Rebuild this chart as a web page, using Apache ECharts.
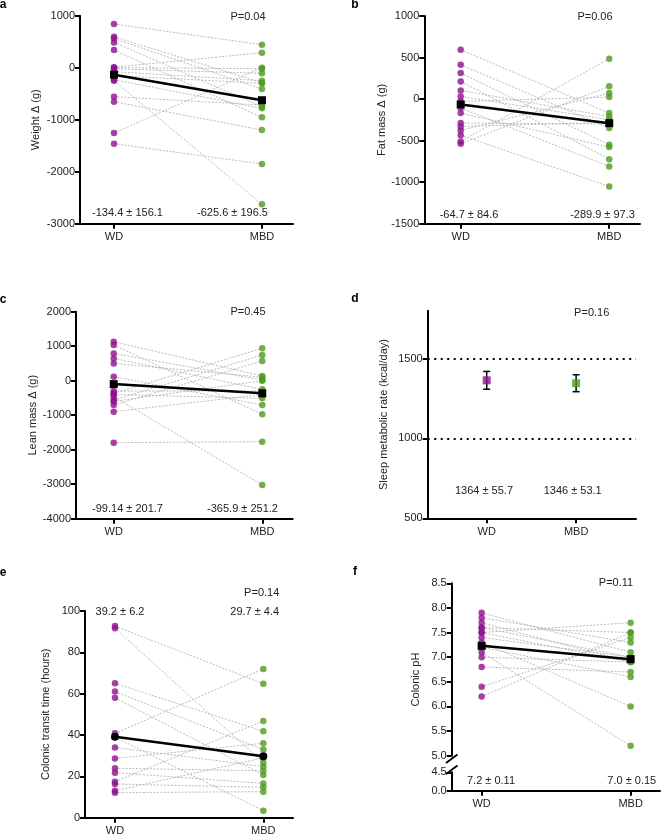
<!DOCTYPE html>
<html><head><meta charset="utf-8">
<script src="https://cdn.jsdelivr.net/npm/echarts@6/dist/echarts.min.js"></script>
<style>html,body{margin:0;padding:0;background:#fff}#c{width:664px;height:839px}</style>
</head><body><div id="c"></div>
<script>
// ---------- data ----------
const groups = ['WD', 'MBD'];

// a: weight change (g), paired by subject
const weightWD   = [840, 596, 560, 487, 340, 10, 0, -20, -77, -150, -230, -250, -558, -654, -1256, -1462];
const weightMBD  = [442, -288, -410, -750, -955, 288, -20, -109, -250, -300, -782, -2628, -718, -1199, 0, -1853];
const weightMean = [-134.4, -625.6];
const weightStats = ['-134.4 ± 156.1', '-625.6 ± 196.5'];
const weightTicks = [-3000, -2000, -1000, 0, 1000];

// b: fat mass change (g)
const fatWD   = [594, 414, 313, 213, 104, 32, -28, -108, -169, -289, -329, -378, -434, -510, -538];
const fatMBD  = [-169, -349, -550, -723, -209, -249, 24, -811, -578, -300, -280, 72, -1052, 486, 153];
const fatMean = [-64.7, -289.9];
const fatStats = ['-64.7 ± 84.6', '-289.9 ± 97.3'];
const fatTicks = [-1500, -1000, -500, 0, 500, 1000];

// c: lean mass change (g)
const leanWD   = [1130, 1034, 792, 647, 502, 116, -367, -464, -560, -705, -899, -1797, -400, -600, -300];
const leanMBD  = [135, -976, 19, -251, 100, -705, 937, -3024, 744, 570, -400, -1768, -512, 0, -300];
const leanMean = [-99.14, -365.9];
const leanStats = ['-99.14 ± 201.7', '-365.9 ± 251.2'];
const leanTicks = [-4000, -3000, -2000, -1000, 0, 1000, 2000];

// d: sleep metabolic rate (kcal/day)
const smrMean = [1364, 1346];
const smrSem  = [55.7, 53.1];
const smrStats = ['1364 ± 55.7', '1346 ± 53.1'];
const smrTicks = [500, 1000, 1500];
const smrMax = 1800;
const smrRefLines = [1000, 1500];

// e: colonic transit time (hours)
const cttWD   = [92.7, 91.6, 65, 61, 58, 40.8, 39, 34, 28.7, 23.9, 21.8, 17.4, 16.3, 13, 12.1];
const cttMBD  = [64.8, 26.6, 41.8, 33, 20.6, 72, 3.4, 24.7, 36, 22.7, 16.6, 46.8, 14.7, 29, 12.6];
const cttMean = [39.2, 29.7];
const cttStats = ['39.2 ± 6.2', '29.7 ± 4.4'];
const cttTicks = [0, 20, 40, 60, 80, 100];

// f: colonic pH (broken axis)
const phWD   = [7.9, 7.8, 7.7, 7.6, 7.5, 7.4, 7.3, 7.2, 7.1, 7.0, 6.8, 6.4, 6.2, 7.6, 7.5];
const phMBD  = [7.1, 7.3, 6.9, 7.5, 7.7, 7.0, 6.0, 6.6, 5.2, 6.9, 6.7, 7.4, 7.5, 7.0, 6.9];
const phMean = [7.23, 6.96];
const phStats = ['7.2 ± 0.11', '7.0 ± 0.15'];
const phTicksUpper = [5.0, 5.5, 6.0, 6.5, 7.0, 7.5, 8.0, 8.5];
const phTicksLower = [0.0, 4.5];

const pValues = ['P=0.04', 'P=0.06', 'P=0.45', 'P=0.16', 'P=0.14', 'P=0.11'];
const panelLetters = ['a', 'b', 'c', 'd', 'e', 'f'];

// ---------- styling / building ----------
const FONT = '"Liberation Sans", Arial, sans-serif';
const PURPLE = '#8e108f', GREEN = '#4f9b1d';
const TXT = '#222';

const grids = [], xAxes = [], yAxes = [], series = [], graphics = [];

function addText(text, x, y, opts) {
  graphics.push({type: 'text', x: x, y: y, z: 100, style: Object.assign({
    text: text, fill: TXT, font: '11px ' + FONT, align: 'center', verticalAlign: 'middle'
  }, opts || {})});
}

function addGrid(g) {
  const gi = grids.length;
  grids.push({left: g.left, top: g.top, width: g.width, height: g.height, containLabel: false});
  xAxes.push({
    gridIndex: gi, type: 'value', min: g.xMin, max: g.xMax, show: g.showX !== false,
    axisLine: {show: true, onZero: false, lineStyle: {color: '#000', width: 2}},
    axisTick: {show: true, customValues: [0, 1], length: 5, lineStyle: {color: '#000', width: 2}},
    axisLabel: {show: true, customValues: [0, 1], formatter: v => groups[Math.round(v)] || '',
      color: TXT, fontSize: 11, fontFamily: FONT, margin: 8},
    splitLine: {show: false}
  });
  const ticks = g.ticks;
  const y = {
    gridIndex: gi, type: 'value', min: ticks[0], max: g.yMax !== undefined ? g.yMax : ticks[ticks.length - 1],
    name: g.name || '', nameLocation: 'middle', nameGap: g.nameGap || 35,
    nameTextStyle: Object.assign({color: TXT, fontSize: 11, fontFamily: FONT}, g.nameStyle || {}),
    axisLine: {show: true, onZero: false, lineStyle: {color: '#000', width: 2}},
    axisTick: {show: true, length: 5, lineStyle: {color: '#000', width: 2}},
    axisLabel: {color: TXT, fontSize: 11, fontFamily: FONT, margin: 5,
      formatter: g.fmt || (v => String(v))},
    splitLine: {show: false}
  };
  if (g.yMax !== undefined) {
    y.axisTick.customValues = ticks;
    y.axisLabel.customValues = ticks;
  } else {
    y.interval = ticks[1] - ticks[0];
  }
  yAxes.push(y);
  return gi;
}

function addPaired(gi, wd, mbd, mean, meanSymbol) {
  wd.forEach((v, i) => {
    series.push({type: 'line', xAxisIndex: gi, yAxisIndex: gi, data: [[0, v], [1, mbd[i]]],
      symbol: 'none', silent: true, z: 1,
      lineStyle: {color: '#aaaaaa', width: 0.8, type: [2, 1.5]}});
  });
  series.push({type: 'scatter', xAxisIndex: gi, yAxisIndex: gi, data: wd.map(v => [0, v]),
    symbol: 'circle', symbolSize: 6.5, itemStyle: {color: PURPLE}, z: 2, silent: true});
  series.push({type: 'scatter', xAxisIndex: gi, yAxisIndex: gi, data: mbd.map(v => [1, v]),
    symbol: 'circle', symbolSize: 6.5, itemStyle: {color: GREEN}, z: 2, silent: true});
  series.push({type: 'line', xAxisIndex: gi, yAxisIndex: gi, data: mean.map((v, i) => [i, v]),
    symbol: meanSymbol || 'rect', symbolSize: 8, showAllSymbol: true, z: 3, silent: true,
    lineStyle: {color: '#000', width: 2.5}, itemStyle: {color: '#000'}});
}

// Panel a
let gi = addGrid({left: 80, top: 15.7, width: 213, height: 208, xMin: -0.23, xMax: 1.21,
  ticks: weightTicks, name: 'Weight Δ (g)', nameGap: 39});
addPaired(gi, weightWD, weightMBD, weightMean);
addText(weightStats[0], 127.5, 213.3); addText(weightStats[1], 232.5, 213.3);
addText(pValues[0], 248, 17);

// Panel b
gi = addGrid({left: 424.3, top: 16, width: 215.7, height: 207.7, xMin: -0.245, xMax: 1.207,
  ticks: fatTicks, name: 'Fat mass Δ (g)', nameGap: 35});
addPaired(gi, fatWD, fatMBD, fatMean);
addText(fatStats[0], 469, 215); addText(fatStats[1], 602.5, 215);
addText(pValues[1], 595, 17);

// Panel c
gi = addGrid({left: 76, top: 311.7, width: 216.7, height: 207, xMin: -0.254, xMax: 1.205,
  ticks: leanTicks, name: 'Lean mass Δ (g)', nameGap: 35});
addPaired(gi, leanWD, leanMBD, leanMean);
addText(leanStats[0], 127.5, 509.3); addText(leanStats[1], 242.5, 509.3);
addText(pValues[2], 248, 312.3);

// Panel d
gi = addGrid({left: 427.7, top: 310.7, width: 208.3, height: 207.6, xMin: -0.66, xMax: 1.67,
  ticks: smrTicks, yMax: smrMax, name: 'Sleep metabolic rate (kcal/day)', nameGap: 38.7});
series.push({type: 'line', xAxisIndex: gi, yAxisIndex: gi, data: [], silent: true,
  markLine: {silent: true, symbol: 'none', label: {show: false},
    lineStyle: {color: '#000', width: 2, type: [2, 4.5]},
    data: smrRefLines.map(v => ({yAxis: v}))}});
series.push({type: 'custom', xAxisIndex: gi, yAxisIndex: gi, silent: true, z: 3,
  data: smrMean.map((m, i) => [i, m, smrSem[i]]),
  renderItem: function (params, api) {
    const x = api.value(0), m = api.value(1), s = api.value(2);
    const top = api.coord([x, m + s]), bot = api.coord([x, m - s]);
    const cw = 3.5;
    const st = {stroke: '#000', lineWidth: 1.5};
    return {type: 'group', children: [
      {type: 'line', shape: {x1: top[0], y1: top[1], x2: bot[0], y2: bot[1]}, style: st},
      {type: 'line', shape: {x1: top[0] - cw, y1: top[1], x2: top[0] + cw, y2: top[1]}, style: st},
      {type: 'line', shape: {x1: bot[0] - cw, y1: bot[1], x2: bot[0] + cw, y2: bot[1]}, style: st}
    ]};
  }});
series.push({type: 'scatter', xAxisIndex: gi, yAxisIndex: gi, silent: true, z: 4,
  data: smrMean.map((m, i) => ({value: [i, m], itemStyle: {color: i === 0 ? PURPLE : GREEN}})),
  symbol: 'rect', symbolSize: 8});
addText(smrStats[0], 484, 491); addText(smrStats[1], 572.7, 491);
addText(pValues[3], 591.7, 312.7);

// Panel e
gi = addGrid({left: 85, top: 611, width: 208, height: 206.7, xMin: -0.202, xMax: 1.2,
  ticks: cttTicks, name: 'Colonic transit time (hours)', nameGap: 34});
addPaired(gi, cttWD, cttMBD, cttMean, 'circle');
addText(cttStats[0], 120, 611.7); addText(cttStats[1], 254.7, 611.7);
addText(pValues[4], 261.7, 593.3);

// Panel f (upper segment + lower segment for the broken axis)
gi = addGrid({left: 451.7, top: 583.3, width: 208.3, height: 172.4, xMin: -0.201, xMax: 1.197,
  ticks: phTicksUpper, name: 'Colonic pH', nameGap: 30.7, showX: false, fmt: v => v.toFixed(1),
  nameStyle: {padding: [0, 20, 0, 0]}});
addPaired(gi, phWD, phMBD, phMean);
gi = addGrid({left: 451.7, top: 772.3, width: 208.3, height: 18.4, xMin: -0.201, xMax: 1.197,
  ticks: phTicksLower, fmt: v => v.toFixed(1)});
addText(phStats[0], 491, 781); addText(phStats[1], 631.8, 781);
addText(pValues[5], 616, 583.3);
// break marks
graphics.push({type: 'line', shape: {x1: 446, y1: 763, x2: 457.5, y2: 754.5}, style: {stroke: '#000', lineWidth: 1.8}, z: 100});
graphics.push({type: 'line', shape: {x1: 446, y1: 774, x2: 457.5, y2: 765.5}, style: {stroke: '#000', lineWidth: 1.8}, z: 100});

// panel letters
const letterPos = [[3, 5], [355, 5], [3, 300], [355, 299], [3, 573], [355, 572]];
panelLetters.forEach((l, i) => addText(l, letterPos[i][0], letterPos[i][1], {font: 'bold 12px ' + FONT, fill: '#000'}));

const chart = echarts.init(document.getElementById('c'), null, {renderer: 'canvas'});
chart.setOption({
  animation: false,
  backgroundColor: '#fff',
  grid: grids, xAxis: xAxes, yAxis: yAxes, series: series, graphic: graphics
});
</script></body></html>
